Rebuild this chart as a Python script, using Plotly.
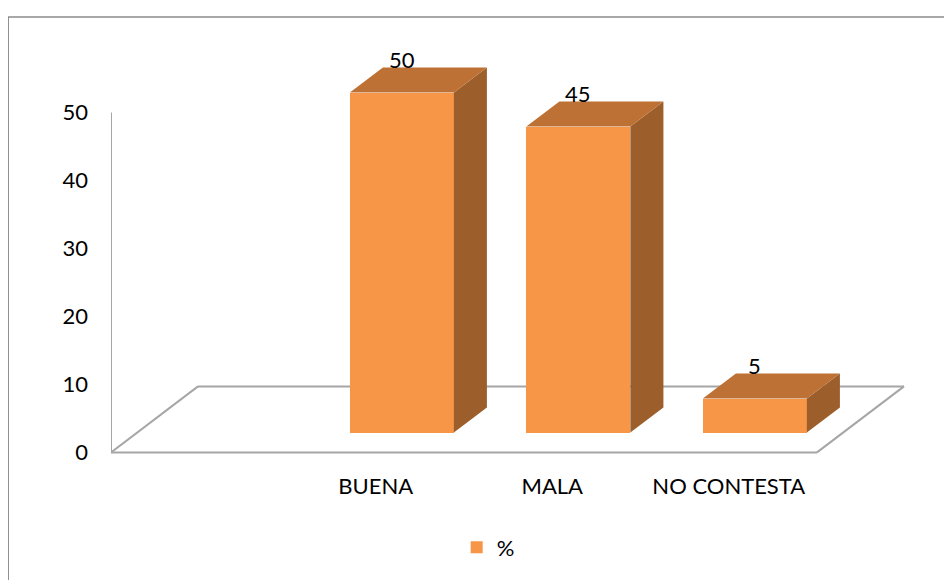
import plotly.graph_objects as go

# data
categories = ["", "BUENA", "MALA", "NO CONTESTA"]
values = [None, 50, 45, 5]
series_name = "%"
y_ticks = [0, 10, 20, 30, 40, 50]

# colours (Excel orange, shaded for the fake 3D faces)
FRONT = "#F79646"
TOP = "#BE7134"
SIDE = "#9C5F2B"
GRID = "#A6A6A6"

# pixel scale of the plot area -> used to fake the oblique 3D projection
PX_X = 176.5   # px per category
PX_Y = 6.8     # px per value unit
floor_dx = 87 / PX_X
floor_dy = 66 / PX_Y
off_x, off_y = 0.3 * floor_dx, 0.3 * floor_dy       # bars sit a bit behind the front
dep_x, dep_y = 0.38 * floor_dx, 0.38 * floor_dy     # bar depth
bar_w = 104 / PX_X

fig = go.Figure()

xs = [i + off_x for i, v in enumerate(values) if v is not None]
ys = [v for v in values if v is not None]

# top and side faces
top_x, top_y, side_x, side_y = [], [], [], []
for cx, v in zip(xs, ys):
    xl, xr = cx - bar_w / 2, cx + bar_w / 2
    t = v + off_y
    top_x += [xl, xr, xr + dep_x, xl + dep_x, xl, None]
    top_y += [t, t, t + dep_y, t + dep_y, t, None]
    side_x += [xr, xr + dep_x, xr + dep_x, xr, xr, None]
    side_y += [off_y, off_y + dep_y, t + dep_y, t, off_y, None]

fig.add_trace(go.Scatter(x=side_x, y=side_y, fill="toself", fillcolor=SIDE,
                         mode="lines", line=dict(width=0), showlegend=False,
                         hoverinfo="skip"))
fig.add_trace(go.Scatter(x=top_x, y=top_y, fill="toself", fillcolor=TOP,
                         mode="lines", line=dict(width=0), showlegend=False,
                         hoverinfo="skip"))
fig.add_trace(go.Bar(x=xs, y=ys, base=off_y, width=bar_w, name=series_name,
                     marker=dict(color=FRONT, line=dict(width=0))))

# value labels just above the back edge of each top face
for cx, v in zip(xs, ys):
    fig.add_annotation(x=cx, y=v + off_y + dep_y, text=str(v),
                       showarrow=False, yanchor="bottom", yshift=-7,
                       font=dict(size=22, color="black"))

# floor and vertical axis line
x0, x1 = -0.5, len(categories) - 0.5
floor_line = dict(color=GRID, width=2)
fig.add_shape(type="line", x0=x0, y0=0, x1=x1, y1=0, line=floor_line, layer="below")
fig.add_shape(type="line", x0=x0 + floor_dx, y0=floor_dy, x1=x1 + floor_dx, y1=floor_dy,
              line=floor_line, layer="below")
fig.add_shape(type="line", x0=x0, y0=0, x1=x0 + floor_dx, y1=floor_dy, line=floor_line, layer="below")
fig.add_shape(type="line", x0=x1, y0=0, x1=x1 + floor_dx, y1=floor_dy, line=floor_line, layer="below")
fig.add_shape(type="line", x0=x0, y0=0, x1=x0, y1=max(y_ticks), line=floor_line, layer="below")

# chart border (runs off the right and bottom of the picture)
fig.add_shape(type="rect", xref="paper", yref="paper", x0=-0.124, y0=-0.5, x1=1.2, y1=1.064,
              line=dict(color="#8C8C8C", width=1.5))

W, H = 944, 572
L, R, T, B = 103, 12, 36, 114
plot_w = W - L - R
plot_h = H - T - B
fig.update_layout(
    width=W, height=H,
    margin=dict(l=L, r=R, t=T, b=B),
    paper_bgcolor="white", plot_bgcolor="white",
    font=dict(family="Lato, Carlito, Calibri, sans-serif", size=22, color="black"),
    xaxis=dict(range=[x0, x0 + plot_w / PX_X], tickvals=list(range(len(categories))),
               ticktext=categories, showgrid=False, zeroline=False, showline=False,
               ticks="", ticklabelstandoff=5, fixedrange=True),
    yaxis=dict(range=[-2, -2 + plot_h / PX_Y], tickvals=y_ticks, showgrid=False,
               zeroline=False, showline=False, ticks="", ticklabelstandoff=22,
               fixedrange=True),
    showlegend=True,
    legend=dict(orientation="h", x=0.417, xanchor="left", y=-0.193, yanchor="middle",
                font=dict(size=22)),
    bargap=0,
)

fig.write_html("out.html")
